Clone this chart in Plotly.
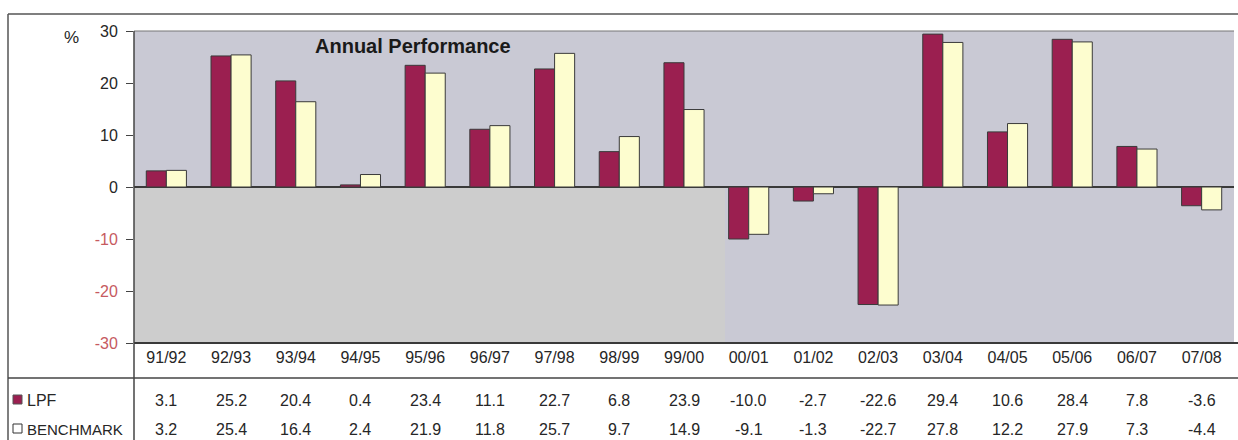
import plotly.graph_objects as go

# Fiscal years and annual returns (%)
years = ["91/92", "92/93", "93/94", "94/95", "95/96", "96/97", "97/98", "98/99", "99/00",
         "00/01", "01/02", "02/03", "03/04", "04/05", "05/06", "06/07", "07/08"]
lpf = [3.1, 25.2, 20.4, 0.4, 23.4, 11.1, 22.7, 6.8, 23.9,
       -10.0, -2.7, -22.6, 29.4, 10.6, 28.4, 7.8, -3.6]
benchmark = [3.2, 25.4, 16.4, 2.4, 21.9, 11.8, 25.7, 9.7, 14.9,
             -9.1, -1.3, -22.7, 27.8, 12.2, 27.9, 7.3, -4.4]
y_ticks = [30, 20, 10, 0, -10, -20, -30]

FONT = "Arial, Liberation Sans, sans-serif"
TXT = "#262626"
NEG = "#c65a5f"
MAROON = "#9b1f50"
CREAM = "#fdfdcf"
LINE = "#3a3a3a"

W, H = 1238, 440
L, R, T, B = 134, 4, 31, 97
PW, PH = W - L - R, H - T - B


def px(x):
    return (x - L) / PW


def py(y):
    return (H - B - y) / PH


fig = go.Figure()
fig.add_trace(go.Bar(x=years, y=lpf, name="LPF", marker_color=MAROON,
                     marker_line=dict(color=LINE, width=1)))
fig.add_trace(go.Bar(x=years, y=benchmark, name="BENCHMARK", marker_color=CREAM,
                     marker_line=dict(color=LINE, width=1)))

ticktext = [str(v) if v >= 0 else f"<span style='color:{NEG}'>{v}</span>" for v in y_ticks]

shapes = [
    # lighter grey patch in the lower-left of the plot area
    dict(type="rect", xref="paper", yref="y", x0=0, x1=px(725), y0=-30, y1=0,
         fillcolor="#cdcdcd", line_width=0, layer="below"),
    # outer frame of the table
    dict(type="line", xref="paper", yref="paper", x0=px(8), x1=px(1238), y0=py(14), y1=py(14),
         line=dict(color="#555", width=1.5)),
    dict(type="line", xref="paper", yref="paper", x0=px(8), x1=px(8), y0=py(14), y1=py(440),
         line=dict(color="#555", width=1.5)),
    # plot top edge
    dict(type="line", xref="paper", yref="paper", x0=0, x1=1, y0=1, y1=1,
         line=dict(color="#777", width=1)),
    # axis baseline, extended across the table
    dict(type="line", xref="paper", yref="paper", x0=0, x1=px(1238), y0=0, y1=0,
         line=dict(color=LINE, width=2)),
    # row separator under the year labels
    dict(type="line", xref="paper", yref="paper", x0=px(8), x1=px(1238), y0=py(378), y1=py(378),
         line=dict(color="#444", width=1.5)),
    # left column separator
    dict(type="line", xref="paper", yref="paper", x0=0, x1=0, y0=1, y1=py(440),
         line=dict(color="#444", width=1.5)),
    # legend keys in the table
    dict(type="rect", xref="paper", yref="paper", x0=px(13), x1=px(22), y0=py(404), y1=py(395),
         fillcolor=MAROON, line=dict(color="#555", width=1)),
    dict(type="rect", xref="paper", yref="paper", x0=px(13), x1=px(22), y0=py(433), y1=py(424),
         fillcolor="white", line=dict(color="#333", width=1)),
]


def label(text, x, y, size=16, xanchor="center", xref="paper", color=TXT):
    return dict(text=text, xref=xref, yref="paper", x=x, y=y, xanchor=xanchor,
                yanchor="middle", showarrow=False,
                font=dict(size=size, color=color, family=FONT))


annotations = [
    label("<b>Annual Performance</b>", px(413), py(46), size=20, color="#1a1a1a"),
    label("%", px(71), py(37), size=17),
    label("LPF", px(25), py(400), xanchor="left"),
    label("BENCHMARK", px(25), py(429), size=15, xanchor="left"),
]
for yr, a, b in zip(years, lpf, benchmark):
    annotations.append(label(f"{a:.1f}", yr, py(400), xref="x"))
    annotations.append(label(f"{b:.1f}", yr, py(429), xref="x"))

fig.update_layout(
    width=W, height=H,
    margin=dict(l=L, r=R, t=T, b=B, pad=0),
    paper_bgcolor="white",
    plot_bgcolor="#c9c9d4",
    barmode="group", bargap=0.38, bargroupgap=0,
    showlegend=False,
    shapes=shapes,
    annotations=annotations,
    font=dict(family=FONT, color=TXT, size=16),
    xaxis=dict(type="category", showgrid=False, showline=False, ticks="",
               tickfont=dict(size=16, color=TXT), ticklabelstandoff=3),
    yaxis=dict(range=[-30, 30], tickvals=y_ticks, ticktext=ticktext, showgrid=False,
               showline=False, ticks="outside", ticklen=7, tickcolor="#444", tickwidth=1,
               zeroline=True, zerolinecolor=LINE, zerolinewidth=1.5,
               ticklabelstandoff=5, tickfont=dict(size=16, color=TXT)),
)

fig.write_html("out.html")
